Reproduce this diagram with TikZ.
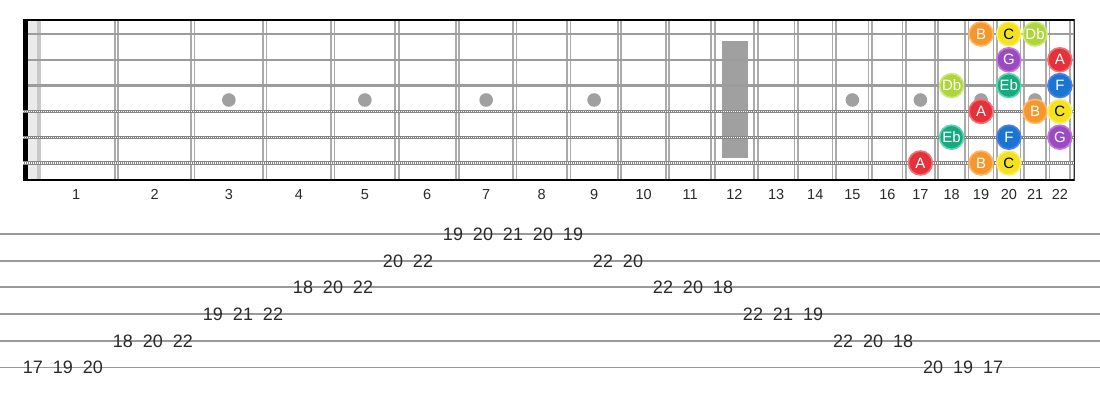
\documentclass[tikz,border=0pt]{standalone}
\usepackage{fontspec}
\setmainfont{Liberation Sans}
\definecolor{nutlight}{HTML}{EBEBEB}
\definecolor{nutdark}{HTML}{C8C8C8}
\definecolor{fretgray}{HTML}{ABABAB}
\definecolor{strgray}{HTML}{9C9C9C}
\definecolor{woundgray}{HTML}{858585}
\definecolor{inlay}{HTML}{A0A0A0}
\definecolor{tabline}{HTML}{999999}
\definecolor{txt}{HTML}{2A2A2A}
\definecolor{cAf}{HTML}{E5323A}\definecolor{cAr}{HTML}{F27177}
\definecolor{cBf}{HTML}{F7962A}\definecolor{cBr}{HTML}{FBB866}
\definecolor{cCf}{HTML}{F4E21C}\definecolor{cCr}{HTML}{F9EE72}
\definecolor{cDbf}{HTML}{AED63A}\definecolor{cDbr}{HTML}{CDE87E}
\definecolor{cEbf}{HTML}{17A97F}\definecolor{cEbr}{HTML}{5AD6B2}
\definecolor{cFf}{HTML}{1A75D0}\definecolor{cFr}{HTML}{4F7FE8}
\definecolor{cGf}{HTML}{9A4BC0}\definecolor{cGr}{HTML}{C873E2}
\tikzset{
  notebox/.style={circle, minimum size=24pt, inner sep=0pt, line width=1.6pt,
    fill=c#1f, draw=c#1r, font=\fontsize{15pt}{15pt}\selectfont, text=white},
  fretnum/.style={font=\fontsize{14.5pt}{14.5pt}\selectfont, text=txt, inner sep=0pt, anchor=base},
  tabnum/.style={font=\fontsize{18pt}{18pt}\selectfont, text=txt, inner sep=0pt, anchor=base},
  tabstring/.style={draw=tabline, line width=1.7pt},
}
\begin{document}
\begin{tikzpicture}[x=1pt,y=-1pt]
\useasboundingbox (0,0) rectangle (1100,400);
\fill[white] (0,0) rectangle (1100,400);
% nut
\fill[nutlight] (28,20) rectangle (37,180);
\fill[nutdark] (37,20) rectangle (41,180);
\fill[black] (22.5,20) rectangle (27.8,181);
% frets
\foreach \n in {1,...,22}{
  \pgfmathsetmacro\fx{36+1440*(1-pow(2,-\n/12))}
  \fill[fretgray] (\fx-2.6,20) rectangle (\fx+2.6,180);
  \fill[white] (\fx-0.9,20) rectangle (\fx+0.9,180);
}
% inlays
\foreach \n in {3,5,7,9,15,17,19,21}{
  \pgfmathsetmacro\mx{36+1440*(1-0.5*pow(2,-(\n-1)/12)-0.5*pow(2,-\n/12))}
  \fill[inlay] (\mx,100) circle (6.8);
}
\fill[inlay] (721.7,40.7) rectangle (748.3,158.3);
% strings
\foreach \s in {1,2,3}{
  \draw[strgray, line width=2.4pt] (28,{34+25.8*(\s-1)}) -- (1075,{34+25.8*(\s-1)});
}
\foreach \s in {4,5,6}{
  \draw[woundgray, line width=3.4pt] (23,{34+25.8*(\s-1)}) -- (1075,{34+25.8*(\s-1)});
  \draw[white, line width=1.3pt, dash pattern=on 0.9pt off 1.1pt] (23,{34+25.8*(\s-1)}) -- (1075,{34+25.8*(\s-1)});
}
% border
\draw[black, line width=1.8pt] (22.5,20) -- (1075,20);
\draw[black, line width=1.8pt] (22.5,180) -- (1075,180);
\draw[black!80, line width=1.8pt] (1074.5,19.1) -- (1074.5,180.9);
% fret numbers
\foreach \n in {1,...,22}{
  \pgfmathsetmacro\mx{36+1440*(1-0.5*pow(2,-(\n-1)/12)-0.5*pow(2,-\n/12))}
  \node[fretnum] (fn\n) at (\mx,199) {\n};
}
% notes: string/fret/name
\foreach \s/\f/\nm in {1/19/B,1/20/C,1/21/Db,2/20/G,2/22/A,3/18/Db,3/20/Eb,3/22/F,4/19/A,4/21/B,4/22/C,5/18/Eb,5/20/F,5/22/G,6/17/A,6/19/B,6/20/C}{
  \pgfmathsetmacro\mx{36+1440*(1-0.5*pow(2,-(\f-1)/12)-0.5*pow(2,-\f/12))}
  \pgfmathsetmacro\my{34+25.8*(\s-1)}
  \node[notebox=\nm] (n\s-\f) at (\mx,\my) {\nm};
}
\foreach \s/\f in {1/20,4/22,6/20}{ \node[fill=cCf, circle, inner sep=0.5pt, text=black, font=\fontsize{15pt}{15pt}\selectfont] at (n\s-\f) {C}; }
% tab lines
\foreach \s in {1,...,6}{
  \coordinate (tl\s) at (0,{234+26.67*(\s-1)});
  \coordinate (tr\s) at (1100,{234+26.67*(\s-1)});
  \draw[tabstring] (tl\s) -- (tr\s);
}
% tab numbers
\foreach \k/\s/\v in {0/6/17,1/6/19,2/6/20,3/5/18,4/5/20,5/5/22,6/4/19,7/4/21,8/4/22,9/3/18,10/3/20,11/3/22,12/2/20,13/2/22,14/1/19,15/1/20,16/1/21,17/1/20,18/1/19,19/2/22,20/2/20,21/3/22,22/3/20,23/3/18,24/4/22,25/4/21,26/4/19,27/5/22,28/5/20,29/5/18,30/6/20,31/6/19,32/6/17}{
  \node[tabnum] (t\k) at ({33+30*\k},{240.4+26.67*(\s-1)}) {\v};
}
\end{tikzpicture}
\end{document}
